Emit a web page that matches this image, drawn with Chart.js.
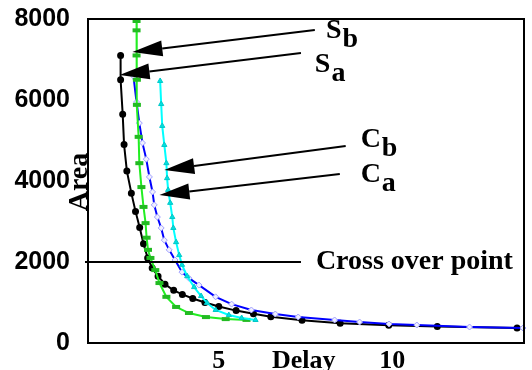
<!DOCTYPE html>
<html>
<head>
<meta charset="utf-8">
<script src="https://cdn.jsdelivr.net/npm/chart.js@4/dist/chart.umd.min.js"></script>
<style>
html,body{margin:0;padding:0;background:#fff;}
canvas{display:block;}
</style>
</head>
<body>
<canvas id="c" width="532" height="370"></canvas>
<script>
// ---- data ----
const blackX = [2.17, 2.17, 2.23, 2.27, 2.35, 2.48, 2.6, 2.72, 2.83, 2.95, 3.08, 3.25, 3.45, 3.7, 3.95, 4.25, 4.6, 5.0, 5.5, 6.0, 6.5, 7.4, 8.5, 9.9, 11.3, 13.6];
const blackY = [7100, 6500, 5650, 4900, 4250, 3700, 3250, 2850, 2450, 2100, 1850, 1650, 1450, 1300, 1200, 1100, 1000, 900, 800, 720, 650, 560, 490, 440, 410, 370];

const greenX = [2.63, 2.63, 2.63, 2.64, 2.64, 2.69, 2.71, 2.77, 2.83, 2.89, 2.92, 2.96, 3.03, 3.17, 3.29, 3.49, 3.77, 4.14, 4.63, 5.2, 5.8];
const greenY = [7950, 7720, 7100, 6500, 5880, 5090, 4440, 3850, 3360, 2960, 2600, 2300, 2100, 1800, 1480, 1140, 890, 740, 640, 590, 570];

const blueX = [2.54, 2.63, 2.71, 2.8, 2.91, 3.0, 3.09, 3.14, 3.23, 3.34, 3.43, 3.57, 3.74, 3.94, 4.14, 4.43, 4.91, 5.37, 5.94, 6.63, 7.29, 8.34, 9.06, 9.91, 10.71, 12.23, 13.77];
const blueY = [6590, 5950, 5430, 4940, 4540, 4100, 3730, 3410, 3110, 2840, 2540, 2300, 2050, 1750, 1600, 1430, 1140, 960, 815, 716, 642, 568, 518, 469, 444, 395, 370];

const cyanX = [3.31, 3.34, 3.37, 3.43, 3.49, 3.51, 3.54, 3.6, 3.66, 3.69, 3.77, 3.86, 3.94, 4.09, 4.29, 4.49, 4.66, 4.91, 5.29, 5.66, 6.06];
const cyanY = [6470, 5900, 5360, 4890, 4440, 4070, 3780, 3460, 3110, 2840, 2490, 2170, 1930, 1650, 1380, 1160, 990, 815, 690, 617, 568];

const yTicks = [0, 2000, 4000, 6000, 8000];
const yTickLabels = ['0', '2000', '4000', '6000', '8000'];
const xTickValues = [5, 7.45, 10];
const xTickLabels = ['5', 'Delay', '10'];
const yTitle = 'Area';

// annotations (data coordinates)
const labelMain = ['S', 'S', 'C', 'C'];
const labelSub  = ['b', 'a', 'b', 'a'];
const labelX    = [8.09, 7.77, 9.09, 9.09];
const labelY    = [7531, 6691, 4839, 3975];
const tailX = [7.77, 7.37, 8.66, 8.49];
const tailY = [7728, 7160, 4864, 4172];
const tipX  = [2.51, 2.14, 3.43, 3.29];
const tipY  = [7185, 6617, 4271, 3654];

const crossY = 2000;
const crossEndX = 7.37;
const crossLabelX = 7.8;
const crossText = 'Cross over point';

const pts = (xs, ys) => xs.map((v, i) => ({x: v, y: ys[i]}));

const annot = {
  id: 'annot',
  afterDatasetsDraw(chart) {
    const {ctx, chartArea: a, scales: {x, y}} = chart;
    ctx.save();
    ctx.strokeStyle = '#000';
    ctx.fillStyle = '#000';
    // crossover line
    const cy = y.getPixelForValue(crossY);
    ctx.lineWidth = 2;
    ctx.beginPath();
    ctx.moveTo(a.left - 3, cy);
    ctx.lineTo(x.getPixelForValue(crossEndX), cy);
    ctx.stroke();
    ctx.font = 'bold 28px "Liberation Serif"';
    ctx.textBaseline = 'middle';
    ctx.textAlign = 'left';
    ctx.fillText(crossText, x.getPixelForValue(crossLabelX), cy);
    // arrows
    for (let i = 0; i < tailX.length; i++) {
      const tx = x.getPixelForValue(tailX[i]), ty = y.getPixelForValue(tailY[i]);
      const px = x.getPixelForValue(tipX[i]), py = y.getPixelForValue(tipY[i]);
      let dx = tx - px, dy = ty - py;
      const len = Math.hypot(dx, dy); dx /= len; dy /= len;
      const L = 30, W = 8;
      const bx = px + dx * L, by = py + dy * L;
      ctx.lineWidth = 2;
      ctx.beginPath(); ctx.moveTo(tx, ty); ctx.lineTo(bx, by); ctx.stroke();
      ctx.beginPath();
      ctx.moveTo(px, py);
      ctx.lineTo(bx - dy * W, by + dx * W);
      ctx.lineTo(bx + dy * W, by - dx * W);
      ctx.closePath(); ctx.fill();
      // label
      const lx = x.getPixelForValue(labelX[i]), ly = y.getPixelForValue(labelY[i]);
      ctx.textBaseline = 'alphabetic';
      ctx.font = 'bold 28px "Liberation Serif"';
      ctx.fillText(labelMain[i], lx, ly);
      const w = ctx.measureText(labelMain[i]).width;
      ctx.fillText(labelSub[i], lx + w + 1, ly + 9);
    }
    // frame
    ctx.lineWidth = 2;
    ctx.strokeRect(a.left, a.top, a.right - a.left, a.bottom - a.top);
    // y title
    ctx.translate(a.left - 1, y.getPixelForValue(3975));
    ctx.rotate(-Math.PI / 2);
    ctx.textAlign = 'center';
    ctx.textBaseline = 'alphabetic';
    ctx.font = 'bold 28px "Liberation Serif"';
    ctx.fillText(yTitle, 0, 0);
    ctx.restore();
  }
};

new Chart(document.getElementById('c'), {
  type: 'scatter',
  data: {
    datasets: [
      {data: pts(cyanX, cyanY), showLine: true, borderColor: '#00ffff', borderWidth: 2,
       pointStyle: 'triangle', pointRadius: 3, pointBackgroundColor: '#00e0e0', pointBorderColor: '#00c8c8', pointBorderWidth: 1, clip: 2},
      {data: pts(greenX, greenY), showLine: true, borderColor: '#22ee22', borderWidth: 2,
       pointStyle: 'line', pointRadius: 4, pointBorderColor: '#22bb22', pointBorderWidth: 4, clip: 2},
      {data: pts(blueX, blueY), showLine: true, borderColor: '#0000ff', borderWidth: 2,
       pointStyle: 'rectRot', pointRadius: 3, pointBackgroundColor: '#f0f0ff', pointBorderColor: '#a0a0ff', pointBorderWidth: 1, clip: 2},
      {data: pts(blackX, blackY), showLine: true, borderColor: '#000', borderWidth: 2,
       pointStyle: 'circle', pointRadius: 2.5, pointBackgroundColor: '#000', pointBorderColor: '#000', clip: 2}
    ]
  },
  options: {
    responsive: false,
    animation: false,
    events: [],
    layout: {padding: {top: 19, right: 4, left: 0, bottom: 0}},
    plugins: {legend: {display: false}, tooltip: {enabled: false}},
    scales: {
      x: {
        type: 'linear', min: 1.23, max: 13.8,
        grid: {display: false, drawTicks: false}, border: {display: false},
        afterBuildTicks: s => { s.ticks = xTickValues.map(v => ({value: v})); },
        afterFit: s => { s.height = 27; s.paddingLeft = 0; s.paddingRight = 0; s.paddingTop = 0; s.paddingBottom = 0; },
        ticks: {
          callback: (v, i) => xTickLabels[i],
          font: {family: '"Liberation Serif"', size: 26, weight: 'bold', lineHeight: 1},
          color: '#000', padding: 5, maxRotation: 0, autoSkip: false
        }
      },
      y: {
        type: 'linear', min: 0, max: 8000,
        grid: {display: false, drawTicks: false}, border: {display: false},
        afterBuildTicks: s => { s.ticks = yTicks.map(v => ({value: v})); },
        afterFit: s => { s.width = 88; s.paddingTop = 0; s.paddingBottom = 0; s.paddingLeft = 0; s.paddingRight = 0; },
        ticks: {
          callback: (v, i) => yTickLabels[i],
          font: {family: '"Liberation Sans"', size: 25, weight: 'bold', lineHeight: 1},
          color: '#000', padding: 18
        }
      }
    }
  },
  plugins: [annot]
});
</script>
</body>
</html>
